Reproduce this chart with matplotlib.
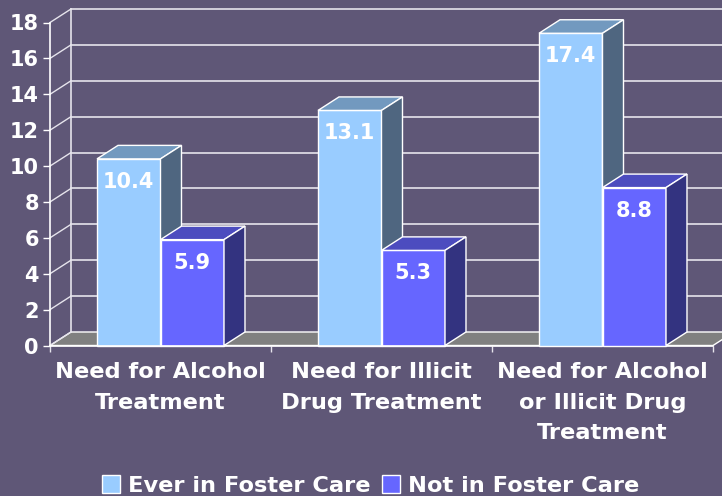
import matplotlib.pyplot as plt
from matplotlib.patches import Patch, Polygon

categories = ["Need for Alcohol\nTreatment", "Need for Illicit\nDrug Treatment", "Need for Alcohol\nor Illicit Drug\nTreatment"]
ever_in_care = [10.4, 13.1, 17.4]
not_in_care = [5.9, 5.3, 8.8]
y_ticks = [0, 2, 4, 6, 8, 10, 12, 14, 16, 18]

BG = "#5F5777"
LIGHT = ("#99CCFF", "#7299BF", "#4F6680")  # front, top, side
DARK = ("#6666FF", "#4C4CBF", "#333380")
BAR_W = 0.2873
DX = 0.095   # depth of the 3d box, category units
DY = 0.7525  # depth of the 3d box, value units

plt.rcParams["font.family"] = "DejaVu Sans"
plt.rcParams["font.weight"] = "bold"

fig = plt.figure(figsize=(7.22, 4.96), dpi=100, facecolor=BG)
ax = fig.add_axes([50 / 722, (496 - 345.5) / 496, 663 / 722, 323 / 496], facecolor="none")
ax.set_xlim(0, 3)
ax.set_ylim(0, 18)
for s in ["top", "right"]:
    ax.spines[s].set_visible(False)
for s in ["left", "bottom"]:
    ax.spines[s].set_color("white")
    ax.spines[s].set_linewidth(1.2)
    ax.spines[s].set_zorder(5)

# floor
ax.add_patch(Polygon([(0, 0), (DX, DY), (3 + DX, DY), (3, 0)], closed=True, facecolor="#808080",
                     edgecolor="white", linewidth=1, clip_on=False, zorder=1))

# back wall grid
for t in y_ticks:
    if t > 0:
        ax.plot([DX, 3.2], [t + DY, t + DY], color="#E6E4EC", lw=1.2, clip_on=False, zorder=1)
    ax.plot([0, DX], [t, t + DY], color="#E6E4EC", lw=1, clip_on=False, zorder=1)
ax.plot([DX, DX], [DY, 18 + DY], color="#E6E4EC", lw=1.2, clip_on=False, zorder=1)


def draw_bar(x, value, colors, z):
    front, top, side = colors
    ax.bar(x, value, BAR_W, align="edge", color=front, edgecolor="white", linewidth=1, clip_on=False, zorder=z)
    ax.add_patch(Polygon([(x, value), (x + DX, value + DY), (x + BAR_W + DX, value + DY), (x + BAR_W, value)],
                         closed=True, facecolor=top, edgecolor="white", linewidth=1, clip_on=False, zorder=z))
    ax.add_patch(Polygon([(x + BAR_W, 0), (x + BAR_W + DX, DY), (x + BAR_W + DX, value + DY), (x + BAR_W, value)],
                         closed=True, facecolor=side, edgecolor="white", linewidth=1, clip_on=False, zorder=z))
    ax.annotate(f"{value:.1f}", (x + BAR_W / 2, value), xytext=(0, -16.5), textcoords="offset points",
                ha="center", va="center", color="white", fontsize=15, fontweight="bold", zorder=z + 1)


for i in range(len(categories)):
    left = i + 0.5 - BAR_W
    draw_bar(left, ever_in_care[i], LIGHT, 2 + i * 2)
    draw_bar(left + BAR_W, not_in_care[i], DARK, 3 + i * 2)

ax.set_yticks(y_ticks)
ax.tick_params(axis="y", length=5, width=1, color="white", labelcolor="white", labelsize=15, pad=3)
ax.set_xticks([0, 1, 2, 3], [""] * 4)
ax.tick_params(axis="x", which="major", length=4, width=1, color="#E6E4EC")
ax.set_xticks([0.5, 1.5, 2.5], categories, minor=True)
ax.tick_params(axis="x", which="minor", length=0, pad=12, labelcolor="white", labelsize=16.2)
for lab in ax.get_xticklabels(minor=True):
    lab.set_linespacing(1.65)

handles = [Patch(facecolor=LIGHT[0], edgecolor="white", label="Ever in Foster Care"),
           Patch(facecolor=DARK[0], edgecolor="white", label="Not in Foster Care")]
fig.legend(handles=handles, ncol=2, frameon=False, loc="center", bbox_to_anchor=(370.5 / 722, 1 - 485.5 / 496),
           labelcolor="white", fontsize=16.2, handlelength=0.8, handleheight=0.8, handletextpad=0.36,
           columnspacing=0.53, borderpad=0)

fig.savefig("out.png", dpi=100, facecolor=BG)
